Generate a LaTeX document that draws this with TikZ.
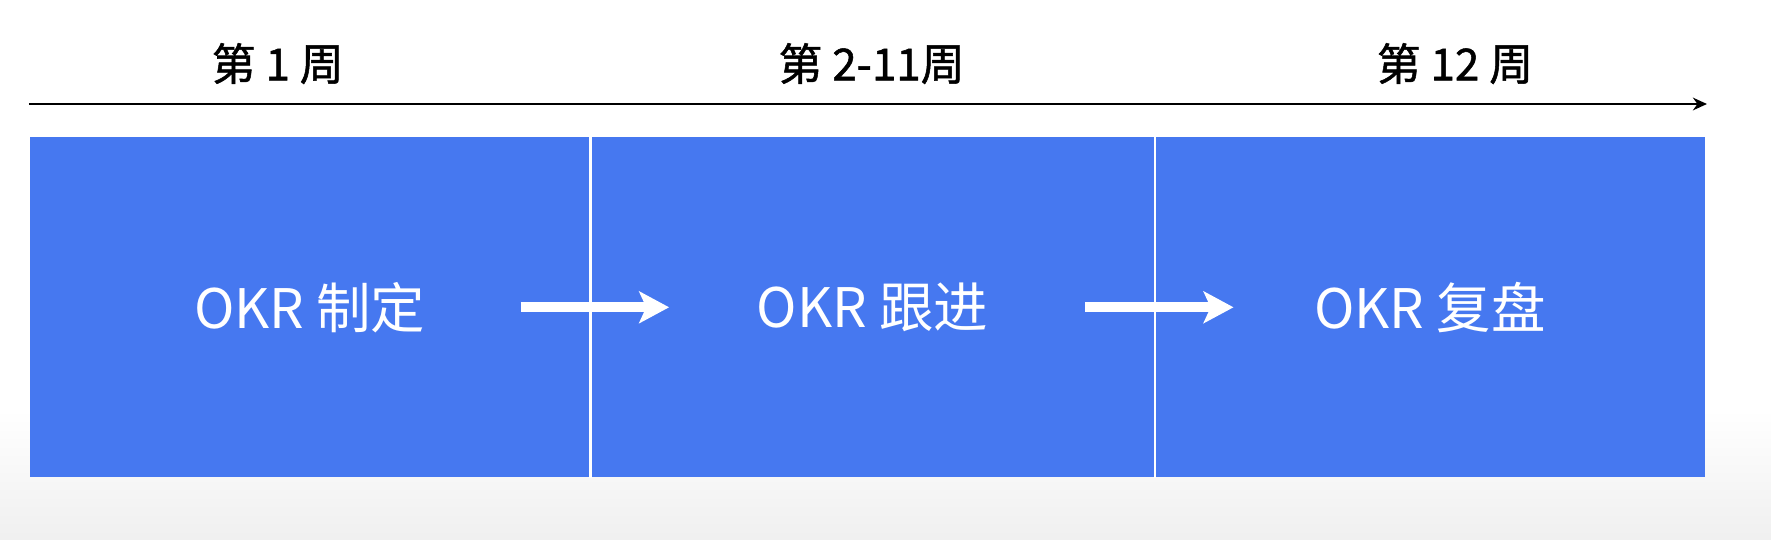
\documentclass[tikz,border=0pt]{standalone}
\usepackage{fontspec}
\setmainfont{Noto Sans CJK SC}
\newfontfamily\weekfont{Noto Sans CJK SC}[FakeBold=1.2]
\usepackage{tikz}
\usetikzlibrary{positioning,arrows.meta}
\definecolor{okrblue}{RGB}{70,120,240}

\begin{document}
\begin{tikzpicture}[
    stage/.style={rectangle, fill=okrblue, text=white, minimum height=3.4cm, inner sep=0pt, font=\fontsize{15.5}{18}\selectfont},
    week/.style={font=\weekfont\fontsize{12.5}{15}\selectfont, inner sep=0pt},
    flow/.style={white, line width=2.8pt, -{Stealth[length=8.5pt,width=9pt,inset=2pt]}},
    timeline/.style={black, line width=0.85pt, -{Stealth[length=4pt,width=3.6pt]}}
    ]
  \fill[white] (0,0) rectangle (17.71,5.39);
  \shade[top color=white, bottom color=black!6] (0,0) rectangle (17.71,1.3);
  \useasboundingbox (0,0) rectangle (17.71,5.39);
  % stages
  \node[stage, anchor=south west, minimum width=5.60cm] (b1) at (0.29,0.61) {OKR 制定};
  \node[stage, right=0 of b1, minimum width=5.63cm] (b2) {OKR 跟进};
  \node[stage, right=0 of b2, minimum width=5.49cm] (b3) {OKR 复盘};
  \draw[white, line width=0.7pt] (b1.north east) -- (b1.south east);
  \draw[white, line width=0.7pt] (b2.north east) -- (b2.south east);
  % timeline
  \coordinate (t0) at (0.29,4.35);
  \coordinate (t1) at (17.07,4.35);
  \draw[timeline] (t0) -- (t1);
  \node[week] (w1) at ([xshift=-0.32cm, yshift=0.73cm]b1.north) {第 1 周};
  \node[week] (w2) at ([xshift=-0.01cm, yshift=0.73cm]b2.north) {第 2-11周};
  \node[week] (w3) at ([xshift=0.25cm, yshift=0.73cm]b3.north) {第 12 周};
  % flow
  \draw[flow, shorten <=2.11cm, shorten >=2.035cm] (b1.center) -- (b2.center);
  \draw[flow, shorten <=2.125cm, shorten >=1.965cm] (b2.center) -- (b3.center);
\end{tikzpicture}
\end{document}
